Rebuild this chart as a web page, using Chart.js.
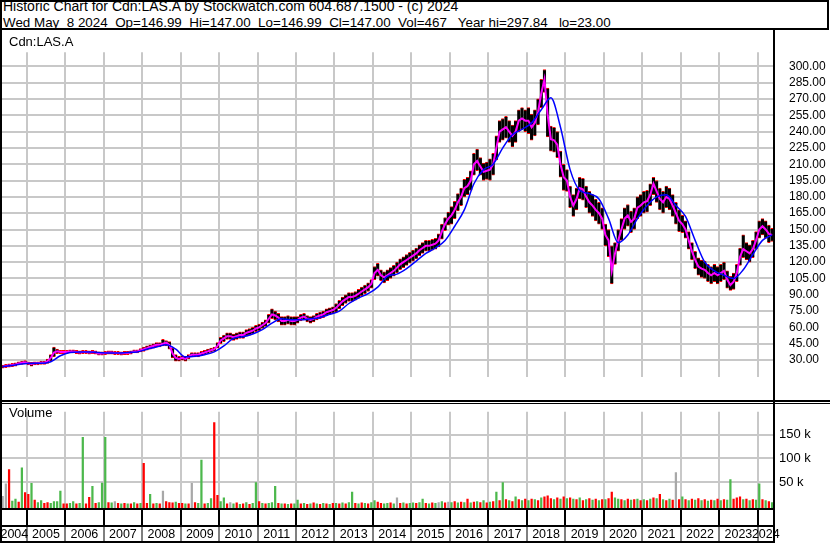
<!DOCTYPE html>
<html>
<head>
<meta charset="utf-8">
<script src="https://cdn.jsdelivr.net/npm/chart.js@4.4.1/dist/chart.umd.min.js"></script>
<style>
  body { margin: 0; background: #fff; }
  #wrap { position: relative; width: 830px; height: 543px; overflow: hidden; font-family: "Liberation Sans", Arial, sans-serif; color: #000; }
  #head { position: absolute; left: 0; top: 0; width: 825px; height: 26px; border: 2px solid #000; }
  .headLine { position: absolute; left: 3px; line-height: 15.5px; white-space: pre; }
  canvas { position: absolute; left: 0; }
  #priceChart { top: 30px; }
  #volChart { top: 399px; }
  .lbl { position: absolute; left: 9px; font-size: 13px; line-height: 15px; white-space: pre; }
</style>
</head>
<body>
<div id="wrap">
  <div id="head"></div>
  <div class="headLine" style="top:-0.7px;font-size:14px">Historic Chart for Cdn:LAS.A by Stockwatch.com 604.687.1500 - (c) 2024</div>
  <div class="headLine" style="top:14.9px;font-size:13.4px">Wed May  8 2024  Op=146.99  Hi=147.00  Lo=146.99  Cl=147.00  Vol=467   Year hi=297.84   lo=23.00</div>
  <canvas id="priceChart" width="830" height="369"></canvas>
  <canvas id="volChart" width="830" height="144"></canvas>
  <div class="lbl" style="top:34px">Cdn:LAS.A</div>
  <div class="lbl" style="top:405px">Volume</div>
</div>
<script>
// monthly bars, first one is May 2004
const firstMonth = [2004, 5];

// short average (magenta), one value a month
const priceMid = [
  24, 24.5, 25, 25.5, 26, 27, 27.5, 28,                    // 2004 May-Dec
  27, 26.5, 27, 27, 27.5, 27.5, 29, 32, 37, 38, 37.5, 37.5,  // 2005
  37.5, 38, 38, 37.5, 37, 37.5, 37.5, 37, 37.5, 37, 36, 36,  // 2006
  36.5, 37, 37, 36.5, 36.5, 36, 36.5, 36.5, 37, 38, 38, 39,  // 2007
  40, 41, 42, 43, 44, 44, 45, 46, 44, 36, 32, 31,            // 2008
  32, 31, 33, 35, 35, 35, 36, 37, 38, 39, 40, 43,            // 2009
  48, 50, 52, 52, 51, 52, 53, 53, 55, 56, 57, 59,            // 2010
  60, 62, 64, 68, 72, 71, 69, 66, 66, 67, 66, 66,            // 2011
  67, 69, 70, 68, 67, 68, 70, 71, 72, 74, 75, 76,            // 2012
  78, 81, 84, 86, 88, 88, 89, 91, 93, 95, 97, 100,           // 2013
  110, 113, 108, 106, 108, 110, 112, 115, 118, 120, 122, 124, // 2014
  126, 128, 131, 133, 135, 135, 136, 137, 140, 148, 155, 160, // 2015
  163, 168, 175, 180, 188, 190, 195, 210, 213, 208, 203, 204, // 2016
  205, 210, 225, 240, 242, 244, 240, 236, 240, 250, 252, 250, // 2017
  250, 244, 248, 258, 275, 288, 255, 233, 232, 228, 210, 198, // 2018
  195, 180, 172, 178, 188, 187, 180, 175, 172, 168, 165, 160, // 2019
  145, 140, 112, 128, 140, 150, 160, 163, 157, 160, 170, 172, // 2020
  175, 176, 182, 192, 185, 178, 175, 180, 178, 172, 165, 158, // 2021
  155, 150, 140, 130, 122, 116, 114, 113, 110, 108, 110, 108, // 2022
  110, 112, 104, 99, 102, 110, 125, 132, 130, 128, 132, 140,  // 2023
  150, 153, 150, 146, 145                                     // 2024 Jan-May
];

const priceLow = [
  22.5, 23, 23.5, 24, 24.5, 25.5, 26, 26.5,
  25.5, 24.5, 25.5, 25.5, 26, 26, 27, 29, 33, 36, 36, 36,
  36, 36.5, 36.5, 36, 35.5, 36, 36, 35.5, 36, 35.5, 34.5, 34.5,
  35, 35.5, 35.5, 35, 35, 34.5, 35, 35, 35.5, 36.5, 36.5, 37.5,
  38, 39, 40, 41, 42, 42, 43, 43, 40, 32, 29, 29,
  30, 29, 31, 33, 33, 33, 34, 35, 36, 37, 38, 41,
  45, 47, 49, 49, 48, 49, 50, 50, 52, 53, 54, 56,
  57, 59, 61, 64, 68, 67, 65, 62, 62, 63, 62, 62,
  64, 66, 67, 65, 64, 65, 67, 68, 69, 71, 72, 73,
  74, 77, 80, 82, 84, 84, 85, 87, 89, 91, 93, 96,
  104, 107, 103, 101, 103, 105, 107, 110, 113, 115, 117, 119,
  121, 123, 126, 128, 130, 130, 131, 132, 134, 141, 149, 154,
  155, 160, 167, 172, 180, 182, 186, 200, 204, 200, 195, 196,
  195, 200, 214, 230, 232, 234, 230, 226, 230, 240, 242, 240,
  238, 232, 236, 246, 262, 276, 235, 222, 221, 216, 198, 186,
  185, 170, 162, 168, 178, 177, 170, 165, 162, 158, 155, 150,
  135, 125, 100, 118, 130, 140, 150, 153, 147, 150, 160, 162,
  165, 166, 172, 182, 175, 168, 165, 170, 168, 162, 155, 148,
  147, 142, 132, 122, 114, 108, 106, 105, 102, 100, 102, 100,
  102, 104, 96, 94, 95, 102, 117, 124, 122, 120, 124, 132,
  142, 145, 142, 138, 139
];

const priceHigh = [
  25.5, 26, 26.5, 27, 27.5, 28.5, 29, 29.5,
  28.5, 28, 28.5, 28.5, 29, 29, 31, 35, 42, 40, 39, 39,
  39, 39.5, 39.5, 39, 38.5, 39, 39, 38.5, 39, 38.5, 37.5, 37.5,
  38, 38.5, 38.5, 38, 38, 37.5, 38, 38, 38.5, 39.5, 39.5, 40.5,
  42, 43, 44, 45, 46, 46, 49, 48, 47, 41, 35, 33.5,
  34, 33.5, 35, 37, 37, 37, 38, 39, 40, 41, 42, 46,
  51, 53, 55, 55, 54, 55, 56, 56, 58, 59, 60, 62,
  63, 65, 67, 72, 77, 75, 73, 70, 70, 71, 70, 70,
  70, 72, 73, 71, 70, 71, 73, 74, 75, 77, 78, 79,
  82, 85, 88, 90, 92, 92, 93, 95, 97, 99, 101, 104,
  116, 119, 113, 111, 113, 115, 117, 120, 123, 125, 127, 129,
  131, 133, 136, 138, 140, 140, 141, 142, 146, 155, 161, 166,
  171, 176, 183, 188, 196, 198, 204, 220, 224, 216, 211, 212,
  215, 220, 236, 250, 252, 254, 250, 246, 250, 260, 262, 260,
  262, 256, 260, 270, 288, 297, 280, 245, 244, 240, 222, 210,
  205, 190, 182, 188, 198, 197, 190, 185, 182, 178, 175, 170,
  155, 150, 135, 138, 150, 160, 170, 173, 167, 170, 180, 182,
  185, 186, 192, 198, 195, 188, 185, 190, 188, 182, 175, 168,
  163, 158, 148, 138, 130, 124, 122, 121, 118, 116, 118, 116,
  118, 120, 112, 107, 110, 118, 133, 145, 138, 136, 140, 148,
  158, 160, 158, 154, 151
];

// long average (blue), one value a quarter, first one is Q2 2004
const firstQuarter = [2004, 2];
const longAvg = [
  24, 25, 26.5,
  27, 27, 28.5, 34,
  37, 37.5, 37.5, 37,
  36.5, 36.5, 37, 37.5,
  40, 42, 44, 40,
  33, 33.5, 35, 37.5,
  43, 50, 51.5, 54,
  58, 64, 68, 67,
  67, 68, 69, 72,
  75, 82, 87, 91,
  97, 107, 109, 114,
  121, 128, 133, 140,
  153, 168, 192, 205,
  210, 225, 237, 242,
  248, 260, 271, 244,
  205, 186, 183, 178,
  160, 138, 145, 160,
  172, 180, 182, 172,
  162, 140, 120, 112,
  108, 105, 113, 127,
  140, 145
];

// volume in thousands, one bar a month; g = up, r = down, n = unchanged
const volume = [
  21, 47, 77, 11, 15, 9, 81, 29,
  25, 48, 13, 8, 12, 6, 8, 6, 10, 10, 32, 5,
  5, 6, 10, 5, 6, 145, 5, 19, 42, 6, 8, 49,
  145, 8, 7, 10, 6, 5, 6, 5, 5, 8, 5, 6,
  90, 6, 25, 5, 6, 5, 32, 10, 8, 7, 9, 6,
  6, 5, 5, 48, 8, 6, 97, 5, 6, 16, 176, 23,
  10, 18, 5, 8, 5, 7, 4, 5, 8, 4, 6, 50,
  10, 6, 5, 6, 8, 42, 6, 5, 5, 4, 5, 5,
  13, 5, 6, 4, 5, 7, 5, 4, 6, 5, 4, 6,
  6, 5, 7, 5, 8, 30, 6, 5, 7, 6, 5, 8,
  12, 9, 6, 5, 6, 7, 5, 18, 6, 7, 5, 6,
  7, 6, 8, 15, 6, 5, 7, 6, 8, 10, 7, 9,
  8, 10, 7, 9, 8, 15, 7, 9, 10, 8, 12, 7,
  9, 10, 30, 12, 50, 14, 12, 10, 20, 14, 12, 15,
  12, 15, 14, 12, 18, 20, 22, 16, 14, 18, 15, 20,
  16, 18, 15, 14, 18, 12, 14, 16, 13, 15, 12, 14,
  14, 16, 30, 18, 15, 14, 12, 15, 13, 14, 15, 12,
  14, 12, 15, 18, 16, 25, 14, 12, 15, 13, 71, 14,
  20, 14, 12, 15, 13, 16, 12, 14, 11, 13, 12, 15,
  12, 14, 13, 56, 15, 18, 20, 14, 15, 12, 14, 13,
  47, 14, 12, 10, 8
];
const volSide = [
  'n','n','r','g','g','r','g','r',
  'r','g','r','g','g','r','r','g','g','g','g','r',
  'r','g','g','r','g','g','r','r','g','r','g','g',
  'g','r','g','n','r','g','r','g','r','g','r','g',
  'r','r','g','r','g','r','n','r','r','r','g','r',
  'r','g','r','n','r','g','g','r','g','g','r','r',
  'g','g','r','n','g','r','g','r','g','r','g','g',
  'r','g','r','g','g','g','r','g','r','g','r','g',
  'g','r','g','r','g','r','g','r','g','r','g','r',
  'g','r','g','r','g','g','r','g','r','g','r','g',
  'g','r','r','g','g','r','g','n','r','g','r','g',
  'g','r','g','g','r','g','r','g','n','g','r','n',
  'g','r','g','r','g','r','g','r','g','r','g','r',
  'g','r','g','r','g','r','g','r','g','r','g','r',
  'g','r','g','r','g','r','r','r','g','r','g','r',
  'g','r','g','r','g','r','g','r','g','r','g','r',
  'g','r','r','g','g','r','g','r','g','r','g','r',
  'g','r','g','r','g','r','g','r','g','r','n','r',
  'g','r','g','r','g','r','g','r','g','r','g','r',
  'g','r','g','g','r','r','r','g','r','g','r','g',
  'g','r','g','r','g'
];

const gridYears = [2005, 2006, 2007, 2008, 2009, 2010, 2011, 2012, 2013, 2014,
  2015, 2016, 2017, 2018, 2019, 2020, 2021, 2022, 2023, 2024];
const priceTicks = [30, 45, 60, 75, 90, 105, 120, 135, 150, 165, 180, 195, 210, 225, 240, 255, 270, 285, 300];
const volTicks = [50, 100, 150];

// axis ranges
const xMin = 2004.358, xMax = 2024.425;
const priceMin = 14.64, priceMax = 312.93;
const volMin = -6.42, volMax = 197.86;

const gridColor = '#c8c8c8';
const sideColors = { g: '#4cb84c', r: '#ff0000', n: '#a8a8a8' };

const monthX = priceMid.map((_, i) => firstMonth[0] + (firstMonth[1] - 1 + i + 0.5) / 12);
const quarterX = longAvg.map((_, i) => firstQuarter[0] + (firstQuarter[1] - 1 + i + 0.5) / 4);

// black frame lines that sit on top of the canvas
function frame(drawPanel) {
  return {
    id: 'frame',
    afterDraw(chart) {
      const ctx = chart.ctx;
      const a = chart.chartArea;
      ctx.save();
      ctx.fillStyle = '#000';
      ctx.fillRect(0, 0, 2, chart.height);
      ctx.fillRect(a.right - 1, 0, 2, chart.height);
      if (drawPanel) {
        const x = chart.scales.x;
        ctx.fillRect(0, 1, chart.width, 2);
        ctx.fillRect(0, 4, chart.width, 1);
        ctx.fillRect(0, a.bottom - 1, a.right, 2);
        ctx.fillRect(0, 126, a.right, 2);
        ctx.fillRect(0, chart.height - 2, a.right, 2);
        gridYears.forEach(y => {
          const px = Math.round(x.getPixelForValue(y));
          ctx.fillRect(px - 1, a.bottom, 2, 127 - a.bottom);
          ctx.fillRect(px - 0.5, 127, 1, chart.height - 127);
        });
      }
      ctx.restore();
    }
  };
}

// price panel
new Chart(document.getElementById('priceChart'), {
  type: 'bar',
  data: {
    datasets: [
      {
        type: 'bar',
        data: monthX.map((x, i) => ({ x: x, y: [priceLow[i], priceHigh[i]] })),
        backgroundColor: '#000',
        borderColor: '#ff0000',
        borderWidth: { top: 1, bottom: 1, left: 0, right: 0 },
        borderSkipped: false,
        barPercentage: 1,
        categoryPercentage: 1,
        order: 3
      },
      {
        type: 'line',
        data: monthX.map((x, i) => ({ x: x, y: priceMid[i] })),
        borderColor: '#ff00ff',
        borderWidth: 2,
        pointRadius: 0,
        tension: 0,
        order: 2
      },
      {
        type: 'line',
        data: quarterX.map((x, i) => ({ x: x, y: longAvg[i] })),
        borderColor: '#0000ff',
        borderWidth: 1.5,
        pointRadius: 0,
        cubicInterpolationMode: 'monotone',
        order: 1
      }
    ]
  },
  options: {
    responsive: false,
    animation: false,
    layout: { padding: { left: 2, right: 3, top: 0, bottom: 0 } },
    plugins: { legend: { display: false }, tooltip: { enabled: false } },
    scales: {
      x: {
        type: 'linear',
        min: xMin,
        max: xMax,
        offset: false,
        afterBuildTicks: s => { s.ticks = gridYears.map(v => ({ value: v })); },
        afterFit: s => { s.height = 0; },
        ticks: { display: false },
        grid: { color: gridColor, lineWidth: 2, drawTicks: false, offset: false },
        border: { display: false }
      },
      y: {
        position: 'right',
        min: priceMin,
        max: priceMax,
        afterBuildTicks: s => { s.ticks = priceTicks.map(v => ({ value: v })); },
        afterFit: s => { s.width = 53; },
        ticks: {
          padding: 15,
          color: '#000',
          font: { family: "'Liberation Sans Narrow', 'Arial Narrow', 'Liberation Sans', Arial", size: 12 },
          callback: v => v.toFixed(2)
        },
        grid: { color: gridColor, lineWidth: 2, drawTicks: false },
        border: { display: false }
      }
    }
  },
  plugins: [frame(false)]
});

// volume panel with the year row
new Chart(document.getElementById('volChart'), {
  type: 'bar',
  data: {
    datasets: [{
      data: monthX.map((x, i) => ({ x: x, y: volume[i] })),
      backgroundColor: volSide.map(s => sideColors[s]),
      base: volMin,
      barPercentage: 0.7,
      categoryPercentage: 1
    }]
  },
  options: {
    responsive: false,
    animation: false,
    layout: { padding: { left: 2, right: 3, top: 5, bottom: 0 } },
    plugins: { legend: { display: false }, tooltip: { enabled: false } },
    scales: {
      x: {
        type: 'linear',
        min: xMin,
        max: xMax,
        offset: false,
        afterBuildTicks: s => {
          const labelAt = gridYears.slice(0, -1).map(v => v + 0.5);
          labelAt.unshift((xMin + gridYears[0]) / 2);
          labelAt.push((gridYears[gridYears.length - 1] + xMax) / 2);
          s.ticks = gridYears.concat(labelAt).map(v => ({ value: v }));
        },
        afterFit: s => { s.height = 34; },
        ticks: {
          autoSkip: false,
          maxRotation: 0,
          padding: 18,
          color: '#000',
          font: { family: "'Liberation Sans', Arial", size: 12.5 },
          callback: v => Number.isInteger(v) ? '' : String(Math.floor(v))
        },
        grid: {
          color: c => Number.isInteger(c.tick.value) ? gridColor : 'rgba(0,0,0,0)',
          lineWidth: 2,
          drawTicks: false,
          offset: false
        },
        border: { display: false }
      },
      y: {
        position: 'right',
        min: volMin,
        max: volMax,
        afterBuildTicks: s => { s.ticks = volTicks.map(v => ({ value: v })); },
        afterFit: s => { s.width = 53; },
        ticks: {
          padding: 5,
          color: '#000',
          font: { family: "'Liberation Sans', Arial", size: 13 },
          callback: v => v + ' k'
        },
        grid: { color: gridColor, lineWidth: 2, drawTicks: false },
        border: { display: false }
      }
    }
  },
  plugins: [frame(true)]
});
</script>
</body>
</html>
